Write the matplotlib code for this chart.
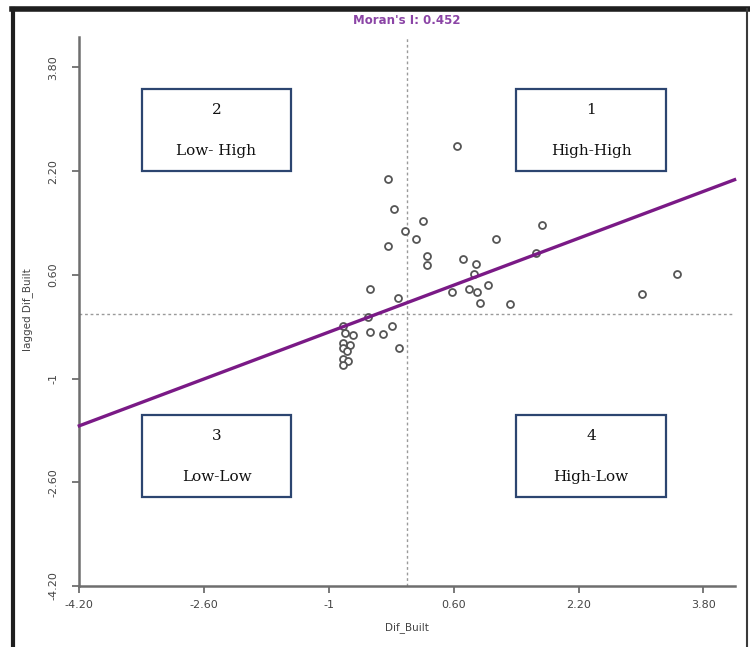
import numpy as np
import matplotlib
matplotlib.use("Agg")
import matplotlib.pyplot as plt
from matplotlib.patches import Rectangle
from matplotlib.lines import Line2D

# Moran scatter data (standardised Dif_Built vs its spatial lag)
dif_built = [0.64, -0.24, -0.16, 0.20, -0.02, 0.12, 1.14, 1.73, -0.24, 0.26,
             0.26, 0.72, 0.88, 0.86, 1.66, -0.47, -0.12, 0.58, 0.80, 0.90,
             1.04, 0.93, 1.32, 3.46, 3.01, -0.50, -0.47, -0.31, -0.19, -0.10,
             -0.82, -0.80, -0.69, -0.82, -0.73, -0.82, -0.82, -0.76, -0.82, -0.77]
lagged = [2.59, 2.08, 1.62, 1.43, 1.28, 1.15, 1.15, 1.37, 1.05, 0.89,
          0.75, 0.85, 0.77, 0.61, 0.94, 0.38, 0.25, 0.33, 0.38, 0.33,
          0.44, 0.17, 0.15, 0.62, 0.31, -0.05, -0.28, -0.31, -0.19, -0.53,
          -0.19, -0.30, -0.33, -0.45, -0.48, -0.53, -0.70, -0.73, -0.79, -0.57]

moran_i = 0.452
intercept = 0.17

ticks = [-4.2, -2.6, -1, 0.6, 2.2, 3.8]
tick_labels = ["-4.20", "-2.60", "-1", "0.60", "2.20", "3.80"]

quad_numbers = ["2", "1", "3", "4"]
quad_labels = ["Low- High", "High-High", "Low-Low", "High-Low"]

W, H = 750, 647
fig = plt.figure(figsize=(W / 100, H / 100), dpi=100)

x0, x1 = -4.2, 4.2
y0, y1 = -4.2, 4.27
ax = fig.add_axes([79.3 / W, (H - 586) / H, 655.3 / W, 549 / H])
ax.set_xlim(x0, x1)
ax.set_ylim(y0, y1)

# reference lines at the means
ax.axhline(0, color="#9a9a9a", lw=1, ls=(0, (2, 2)), zorder=1)
ax.axvline(0, color="#9a9a9a", lw=1, ls=(0, (2, 2)), zorder=1)

# points
ax.plot(dif_built, lagged, "o", ms=5, mfc="white", mec="#555555", mew=1.3, zorder=3)

# regression line, slope = Moran's I
xs = np.array([x0, x1])
ax.plot(xs, intercept + moran_i * xs, color="#7a1a86", lw=2.4, zorder=4, clip_on=False)

for s in ["top", "right"]:
    ax.spines[s].set_visible(False)
for s in ["left", "bottom"]:
    ax.spines[s].set_color("#6e6e6e")
    ax.spines[s].set_linewidth(1.8)

ax.set_xticks(ticks)
ax.set_xticklabels(tick_labels)
ax.set_yticks(ticks)
ax.set_yticklabels(tick_labels, rotation=90, va="center")
ax.tick_params(axis="both", colors="#6e6e6e", labelcolor="#444444", labelsize=8,
               length=5, width=1.3, direction="out")
ax.tick_params(axis="x", pad=5)
ax.tick_params(axis="y", pad=10)

fig.text(407 / W, 1 - 628 / H, "Dif_Built", ha="center", va="center", fontsize=7.5, color="#444444")
fig.text(28 / W, 1 - 310 / H, "lagged Dif_Built", ha="center", va="center", rotation=90,
         fontsize=7.5, color="#444444")
fig.text(407 / W, 1 - 21 / H, "Moran's I: 0.452", ha="center", va="center", fontsize=8.5,
         color="#8b45a6", fontweight="semibold")

# quadrant boxes (pixel boxes: left, top, right, bottom)
boxes = [(142, 89, 291, 171), (516, 89, 666, 171), (142, 415, 291, 497), (516, 415, 666, 497)]
for (bl, bt, br, bb), num, lab in zip(boxes, quad_numbers, quad_labels):
    fig.patches.append(Rectangle((bl / W, 1 - bb / H), (br - bl) / W, (bb - bt) / H,
                                 transform=fig.transFigure, fill=True, fc="white",
                                 ec="#2c4570", lw=1.6, zorder=5))
    cx = (bl + br) / 2 / W
    fig.text(cx, 1 - (bt + 21) / H, num, ha="center", va="center", fontsize=11,
             family="DejaVu Serif", color="#111111", zorder=6)
    fig.text(cx, 1 - (bt + 62) / H, lab, ha="center", va="center", fontsize=11,
             family="DejaVu Serif", color="#111111", zorder=6)

# outer frame of the screenshot
fig.lines.append(Line2D([12 / W, 1], [1 - 9 / H, 1 - 9 / H], transform=fig.transFigure,
                        color="#1e1e1e", lw=4))
fig.lines.append(Line2D([13 / W, 13 / W], [0, 1 - 9 / H], transform=fig.transFigure,
                        color="#1e1e1e", lw=3))
fig.lines.append(Line2D([747 / W, 747 / W], [0, 1 - 9 / H], transform=fig.transFigure,
                        color="#3a3a3a", lw=1.5))

fig.savefig("out.png", dpi=100)
